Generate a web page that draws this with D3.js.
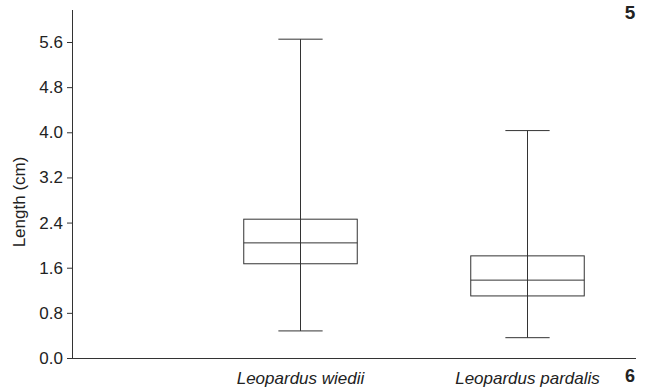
<!DOCTYPE html>
<html>
<head>
<meta charset="utf-8">
<script src="https://cdn.jsdelivr.net/npm/d3@7"></script>
<style>
body{margin:0;background:#fff}
svg text{font-family:"Liberation Sans",Arial,sans-serif;fill:#222}
</style>
</head>
<body>
<div id="chart"></div>
<script>
var width = 647
var height = 387
var species = ["Leopardus wiedii","Leopardus pardalis"]
var whiskerLow = [0.48, 0.36]
var boxLow = [1.67, 1.10]
var medians = [2.04, 1.38]
var boxHigh = [2.46, 1.81]
var whiskerHigh = [5.65, 4.03]
var yTicks = [0.0,0.8,1.6,2.4,3.2,4.0,4.8,5.6]
var stroke = "#333"

var svg = d3.select("#chart").append("svg")
	.attr("width",width)
	.attr("height",height)

var x = d3.scaleBand().domain(species).range([186,640]).paddingInner(0.5).paddingOuter(0.25)
var y = d3.scaleLinear().domain([0,5.6]).range([358,42])

// axes
var yAxis = d3.axisLeft(y).tickValues(yTicks).tickFormat(d3.format(".1f")).tickSize(5).tickSizeOuter(0)
var gy = svg.append("g").attr("transform","translate(72,0)").call(yAxis)
gy.select(".domain").remove()
gy.append("line").attr("x1",0.5).attr("x2",0.5).attr("y1",10).attr("y2",y(0)).attr("stroke",stroke)
gy.selectAll(".tick line").attr("stroke",stroke)
gy.selectAll(".tick text").attr("x",-9).style("font-size","17px").attr("fill","#222")

svg.append("line")
	.attr("x1",72).attr("x2",636)
	.attr("y1",y(0)+0.5).attr("y2",y(0)+0.5)
	.attr("stroke",stroke)

svg.selectAll(".cat").data(species).enter().append("text")
	.attr("class","cat")
	.attr("x",function(d){return x(d)+x.bandwidth()/2+1})
	.attr("y",384)
	.attr("text-anchor","middle")
	.style("font-size","17px")
	.style("font-style","italic")
	.text(function(d){return d})

svg.append("text")
	.attr("transform","translate(25,202) rotate(-90)")
	.attr("text-anchor","middle")
	.style("font-size","17px")
	.text("Length (cm)")

// boxes
var bw = x.bandwidth()
var cap = bw*0.39
var g = svg.selectAll(".box").data(species).enter().append("g").attr("class","box")
g.each(function(d,i){
	var s = d3.select(this)
	var cx = Math.round(x(d)+bw/2)+0.5
	s.append("line").attr("x1",cx).attr("x2",cx).attr("y1",y(whiskerHigh[i])).attr("y2",y(whiskerLow[i])).attr("stroke",stroke)
	s.append("line").attr("x1",cx-cap/2).attr("x2",cx+cap/2).attr("y1",y(whiskerHigh[i])).attr("y2",y(whiskerHigh[i])).attr("stroke",stroke)
	s.append("line").attr("x1",cx-cap/2).attr("x2",cx+cap/2).attr("y1",y(whiskerLow[i])).attr("y2",y(whiskerLow[i])).attr("stroke",stroke)
	s.append("rect").attr("x",cx-bw/2).attr("width",bw)
		.attr("y",y(boxHigh[i])).attr("height",y(boxLow[i])-y(boxHigh[i]))
		.attr("fill","none").attr("stroke",stroke)
	s.append("line").attr("x1",cx-bw/2).attr("x2",cx+bw/2).attr("y1",y(medians[i])).attr("y2",y(medians[i])).attr("stroke",stroke)
})

// panel numbers
svg.append("text").attr("x",630).attr("y",19).attr("text-anchor","middle").style("font-size","19px").style("font-weight","bold").text("5")
svg.append("text").attr("x",630).attr("y",382).attr("text-anchor","middle").style("font-size","18px").style("font-weight","bold").text("6")
</script>
</body>
</html>
